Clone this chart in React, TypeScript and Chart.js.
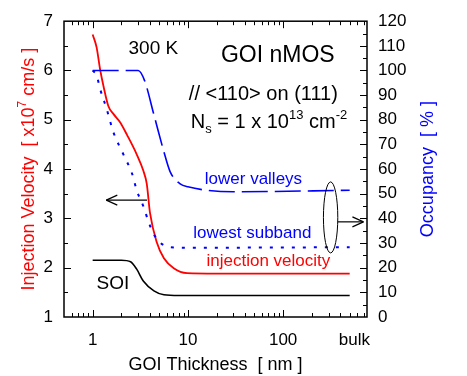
import React, { useEffect, useRef } from 'react';
import { Chart, registerables } from 'chart.js';

Chart.register(...registerables);

const FONT = '"Liberation Sans", Arial, Helvetica, sans-serif';
const RED = '#ff0000';
const BLUE = '#0000ff';

// ---- data ----
const velThickness = [1, 1.1, 1.2, 1.3, 1.46, 1.65, 1.94, 2.3, 2.9, 3.4, 3.7, 4.0, 4.7, 5.6, 7.1, 9.8, 20, 500];
const injectionVelocity = [6.73, 6.47, 6.01, 5.68, 5.28, 5.12, 4.95, 4.69, 4.3, 3.97, 3.7, 3.11, 2.52, 2.19, 1.99, 1.89, 1.88, 1.88];

const soiThickness = [1, 2.0, 2.5, 2.9, 3.4, 4.4, 5.6, 8, 500];
const soiVelocity = [2.15, 2.15, 2.12, 1.97, 1.73, 1.53, 1.45, 1.435, 1.435];

const valleyThickness = [1, 3.0, 3.5, 4.4, 5.6, 6.5, 8.3, 10, 30, 500];
const lowerValleys = [100, 100, 96, 82, 67, 59, 54, 52.8, 50.8, 51.4];

const subbandThickness = [1, 1.1, 1.2, 1.4, 1.65, 2.1, 2.6, 2.9, 3.4, 4.0, 4.7, 5.6, 7.1, 10, 500];
const lowestSubband = [100, 98, 92.4, 84.5, 75, 66, 58, 51.4, 45, 37, 31.7, 29.1, 28.2, 28.1, 28.3];

const xTickValues = [1, 10, 100, 560];
const xTickLabels = ['1', '10', '100', 'bulk'];
const xMajorMarks = [1, 10, 100];
const xMinorMarks = [0.6, 0.7, 0.8, 0.9, 2, 3, 4, 5, 6, 7, 8, 9, 20, 30, 40, 50, 60, 70, 80, 90, 200, 300, 400, 500, 600, 700];
const yMajorMarks = [2, 3, 4, 5, 6];
const yMinorMarks = [1.5, 2.5, 3.5, 4.5, 5.5, 6.5];
const y1MajorMarks = [10, 20, 30, 40, 50, 60, 70, 80, 90, 100, 110];
const y1MinorMarks = [5, 15, 25, 35, 45, 55, 65, 75, 85, 95, 105, 115];

const pts = (xs: number[], ys: number[]) => xs.map((x, i) => ({ x, y: ys[i] }));

type Piece = { t: string; size: number; dy?: number };

function drawPieces(ctx: CanvasRenderingContext2D, pieces: Piece[], cx: number, cy: number, color: string) {
  let total = 0;
  const widths = pieces.map((p) => {
    ctx.font = `${p.size}px ${FONT}`;
    const w = ctx.measureText(p.t).width;
    total += w;
    return w;
  });
  let x = cx - total / 2;
  ctx.fillStyle = color;
  ctx.textAlign = 'left';
  ctx.textBaseline = 'alphabetic';
  pieces.forEach((p, i) => {
    ctx.font = `${p.size}px ${FONT}`;
    ctx.fillText(p.t, x, cy + (p.dy || 0));
    x += widths[i];
  });
}

const decor = {
  id: 'decor',
  afterDatasetsDraw(chart: any) {
    const { ctx, chartArea: a, scales } = chart;
    const sx = scales.x;
    const sy = scales.y;
    const sy1 = scales.y1;
    const X = (v: number) => sx.getPixelForValue(v);
    const Y = (v: number) => sy.getPixelForValue(v);
    ctx.save();

    // frame
    ctx.strokeStyle = '#000';
    ctx.lineWidth = 1.5;
    ctx.strokeRect(a.left, a.top, a.right - a.left, a.bottom - a.top);

    // tick marks (inward)
    ctx.lineWidth = 1;
    const seg = (x1: number, y1: number, x2: number, y2: number) => {
      ctx.beginPath();
      ctx.moveTo(x1, y1);
      ctx.lineTo(x2, y2);
      ctx.stroke();
    };
    const MAJ = 7;
    const MIN = 4;
    xMajorMarks.forEach((v) => {
      const p = Math.round(X(v)) + 0.5;
      seg(p, a.bottom, p, a.bottom - MAJ);
      seg(p, a.top, p, a.top + MAJ);
    });
    xMinorMarks.forEach((v) => {
      const p = Math.round(X(v)) + 0.5;
      seg(p, a.bottom, p, a.bottom - MIN);
      seg(p, a.top, p, a.top + MIN);
    });
    yMajorMarks.forEach((v) => {
      const p = Math.round(Y(v)) + 0.5;
      seg(a.left, p, a.left + MAJ, p);
    });
    yMinorMarks.forEach((v) => {
      const p = Math.round(Y(v)) + 0.5;
      seg(a.left, p, a.left + MIN, p);
    });
    y1MajorMarks.forEach((v) => {
      const p = Math.round(sy1.getPixelForValue(v)) + 0.5;
      seg(a.right, p, a.right - MAJ, p);
    });
    y1MinorMarks.forEach((v) => {
      const p = Math.round(sy1.getPixelForValue(v)) + 0.5;
      seg(a.right, p, a.right - MIN, p);
    });

    // annotations
    const label = (t: string, xv: number, yv: number, size: number, color: string) => {
      ctx.font = `${size}px ${FONT}`;
      ctx.fillStyle = color;
      ctx.textAlign = 'center';
      ctx.textBaseline = 'middle';
      ctx.fillText(t, X(xv), Y(yv));
    };
    label('300 K', 4.34, 6.44, 19, '#000');
    label('GOI nMOS', 88, 6.31, 23, '#000');
    label('// <110> on (111)', 62, 5.52, 20, '#000');
    drawPieces(
      ctx,
      [
        { t: 'N', size: 20 },
        { t: 's', size: 13, dy: 5 },
        { t: ' = 1 x 10', size: 20 },
        { t: '13', size: 13, dy: -9 },
        { t: ' cm', size: 20 },
        { t: '-2', size: 13, dy: -9 },
      ],
      X(71),
      Y(4.97) + 7,
      '#000'
    );
    label('lower valleys', 48.8, 3.8, 17, BLUE);
    label('lowest subband', 47.5, 2.7, 17, BLUE);
    label('injection velocity', 70, 2.125, 17, RED);
    label('SOI', 1.63, 1.67, 19, '#000');

    // left arrow
    ctx.strokeStyle = '#000';
    ctx.lineWidth = 1.2;
    const ay = Y(3.37);
    const ax0 = X(3.72);
    const ax1 = X(1.39);
    seg(ax0, ay, ax1, ay);
    seg(ax1, ay, ax1 + 11, ay - 5);
    seg(ax1, ay, ax1 + 11, ay + 5);

    // ellipse + right arrow
    const ex0 = X(265);
    const ex1 = X(375);
    const ey0 = Y(3.74);
    const ey1 = Y(2.3);
    ctx.lineWidth = 1;
    ctx.beginPath();
    ctx.ellipse((ex0 + ex1) / 2, (ey0 + ey1) / 2, (ex1 - ex0) / 2, (ey1 - ey0) / 2, 0, 0, Math.PI * 2);
    ctx.stroke();
    const ry = Y(2.93);
    const rx1 = X(697);
    ctx.lineWidth = 1.2;
    seg(ex1, ry, rx1, ry);
    seg(rx1, ry, rx1 - 11, ry - 5);
    seg(rx1, ry, rx1 - 11, ry + 5);

    // axis titles
    ctx.save();
    ctx.translate(a.left - 36, (a.top + a.bottom) / 2);
    ctx.rotate(-Math.PI / 2);
    drawPieces(
      ctx,
      [
        { t: 'Injection Velocity  [ x10', size: 18 },
        { t: '7', size: 12, dy: -8 },
        { t: ' cm/s ]', size: 18 },
      ],
      0,
      6,
      RED
    );
    ctx.restore();

    ctx.save();
    ctx.translate(a.right + 60, (a.top + a.bottom) / 2);
    ctx.rotate(-Math.PI / 2);
    drawPieces(ctx, [{ t: 'Occupancy  [ % ]', size: 18 }], 0, 6, BLUE);
    ctx.restore();

    drawPieces(ctx, [{ t: 'GOI Thickness  [ nm ]', size: 18 }], (a.left + a.right) / 2, a.bottom + 53, '#000');

    ctx.restore();
  },
};

export default function App() {
  const ref = useRef<HTMLCanvasElement | null>(null);
  useEffect(() => {
    if (!ref.current) return;
    const tickFont = { family: FONT, size: 17 };
    const chart = new Chart(ref.current, {
      type: 'line',
      data: {
        datasets: [
          {
            label: 'lower valleys',
            data: pts(valleyThickness, lowerValleys),
            yAxisID: 'y1',
            borderColor: BLUE,
            borderWidth: 1.6,
            borderDash: [26, 7],
            pointRadius: 0,
            cubicInterpolationMode: 'monotone',
            fill: false,
          },
          {
            label: 'lowest subband',
            data: pts(subbandThickness, lowestSubband),
            yAxisID: 'y1',
            borderColor: BLUE,
            borderWidth: 2,
            borderDash: [3, 8],
            pointRadius: 0,
            cubicInterpolationMode: 'monotone',
            fill: false,
          },
          {
            label: 'injection velocity',
            data: pts(velThickness, injectionVelocity),
            yAxisID: 'y',
            borderColor: RED,
            borderWidth: 1.8,
            pointRadius: 0,
            cubicInterpolationMode: 'monotone',
            fill: false,
          },
          {
            label: 'SOI',
            data: pts(soiThickness, soiVelocity),
            yAxisID: 'y',
            borderColor: '#000',
            borderWidth: 1.6,
            pointRadius: 0,
            cubicInterpolationMode: 'monotone',
            fill: false,
          },
        ],
      } as any,
      options: {
        responsive: false,
        maintainAspectRatio: false,
        animation: false,
        parsing: false,
        layout: { padding: { top: 13, left: 0, right: 0, bottom: 0 } },
        plugins: { legend: { display: false }, tooltip: { enabled: false } },
        scales: {
          x: {
            type: 'logarithmic',
            min: 0.5,
            max: 760,
            grid: { display: false, drawTicks: false },
            border: { display: false },
            afterBuildTicks: (s: any) => {
              s.ticks = xTickValues.map((v) => ({ value: v }));
            },
            afterFit: (s: any) => {
              s.height = 59;
            },
            ticks: {
              autoSkip: false,
              maxRotation: 0,
              minRotation: 0,
              padding: 13,
              color: '#000',
              font: tickFont,
              callback: (v: any) => {
                const i = xTickValues.indexOf(Number(v));
                return i >= 0 ? xTickLabels[i] : '';
              },
            },
          },
          y: {
            position: 'left',
            min: 1,
            max: 7,
            grid: { display: false, drawTicks: false },
            border: { display: false },
            afterFit: (s: any) => {
              s.width = 64;
            },
            ticks: { stepSize: 1, padding: 11, color: '#000', font: tickFont },
          },
          y1: {
            position: 'right',
            min: 0,
            max: 120,
            grid: { display: false, drawTicks: false },
            border: { display: false },
            afterFit: (s: any) => {
              s.width = 100;
            },
            ticks: { stepSize: 10, padding: 11, color: '#000', font: tickFont },
          },
        },
      } as any,
      plugins: [decor],
    });
    return () => chart.destroy();
  }, []);
  return (
    <div style={{ position: 'fixed', left: 0, top: 0, width: 467, height: 376, background: '#fff' }}>
      <canvas ref={ref} width={467} height={376} style={{ display: 'block', width: 467, height: 376 }} />
    </div>
  );
}
